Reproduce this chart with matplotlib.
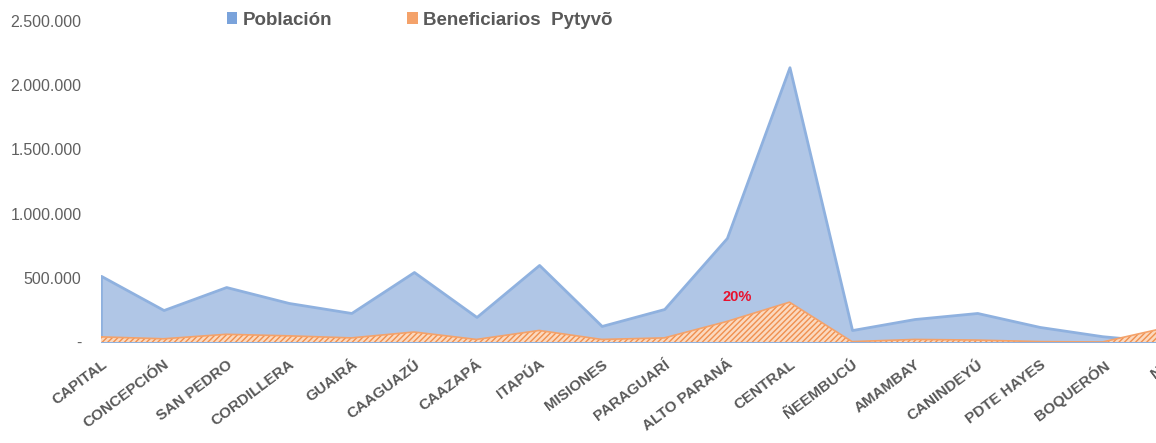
import matplotlib.pyplot as plt
from matplotlib.patches import Patch
from matplotlib.ticker import FuncFormatter

departamentos = ["CAPITAL", "CONCEPCIÓN", "SAN PEDRO", "CORDILLERA", "GUAIRÁ",
                 "CAAGUAZÚ", "CAAZAPÁ", "ITAPÚA", "MISIONES", "PARAGUARÍ",
                 "ALTO PARANÁ", "CENTRAL", "ÑEEMBUCÚ", "AMAMBAY", "CANINDEYÚ",
                 "PDTE HAYES", "BOQUERÓN", "NS"]
poblacion = [515000, 249000, 428000, 304000, 226000,
             545000, 195000, 600000, 125000, 257000,
             810000, 2140000, 93000, 179000, 226000,
             117000, 45000, 0]
beneficiarios = [40000, 25000, 60000, 48000, 32000,
                 78000, 20000, 90000, 20000, 32000,
                 160000, 310000, 3000, 20000, 15000,
                 3000, 0, 110000]
yticks = [0, 500000, 1000000, 1500000, 2000000, 2500000]

gris = "#595959"
plt.rcParams['font.family'] = ['Liberation Sans', 'DejaVu Sans']

fig = plt.figure(figsize=(11.56, 4.43), dpi=100)
ax = fig.add_axes([101/1156, 101/443, 1064/1156, 321/443])

x = list(range(len(departamentos)))
ax.fill_between(x, poblacion, color="#b0c6e6", edgecolor="#8fb1df", linewidth=2, zorder=1)
ax.fill_between(x, beneficiarios, facecolor="#fbd9bf", edgecolor="#f0904f",
                hatch="//////", linewidth=0, zorder=2)
ax.plot(x, beneficiarios, color="#f4a26a", linewidth=1.2, zorder=3)

ax.set_xlim(0, len(departamentos) - 1)
ax.set_ylim(0, 2500000)
ax.set_yticks(yticks)
ax.yaxis.set_major_formatter(FuncFormatter(
    lambda v, p: "-" if v == 0 else f"{int(v):,}".replace(",", ".")))
ax.set_xticks(x)
ax.set_xticklabels(departamentos, rotation=37, ha="right", va="top",
                   rotation_mode="anchor", fontsize=11, fontweight="bold",
                   color=gris)
ax.tick_params(axis="y", labelsize=11.5, labelcolor="#606060", length=0, pad=14)
ax.tick_params(axis="x", length=0, pad=11)
for s in ax.spines.values():
    s.set_visible(False)

ax.text(x[10] + 0.17, 350000, "20%", color="#e8112d", fontsize=10.5,
        fontweight="bold", ha="center", va="center")

handles = [Patch(facecolor="#7aa3db", label="Población"),
           Patch(facecolor="#f4a26a", label="Beneficiarios  Pytyvõ")]
fig.legend(handles=handles, loc="upper left", bbox_to_anchor=(210/1156, 1.012),
           ncol=2, frameon=False, handlelength=0.55, handleheight=0.55,
           handletextpad=0.3, columnspacing=4.0,
           prop={"weight": "bold", "size": 13.5}, labelcolor=gris)

fig.savefig("out.png", dpi=100)
